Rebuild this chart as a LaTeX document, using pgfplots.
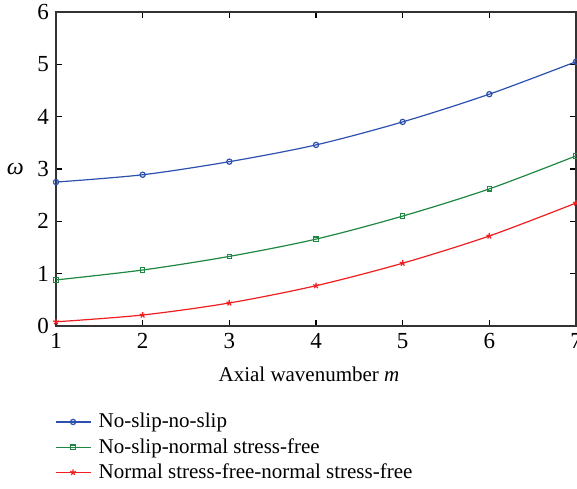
\documentclass[border=0pt]{standalone}
\usepackage{fontspec}
\setmainfont{Liberation Serif}
\usepackage{pgfplots}
\pgfplotsset{compat=1.18}
\definecolor{cblue}{RGB}{45,80,175}
\definecolor{cgreen}{RGB}{30,135,65}
\definecolor{cred}{RGB}{240,30,30}
\begin{document}
\begin{tikzpicture}
\begin{axis}[
    scale only axis,
    width=260pt, height=157pt,
    xmin=1, xmax=7, ymin=0, ymax=6,
    xtick={1,...,7}, ytick={0,...,6},
    tick align=inside,
    major tick length=3pt,
    tick style={black, line width=0.6pt},
    axis line style={line width=0.7pt, black!80},
    /pgf/number format/assume math mode=true,
    ticklabel style={font=\fontsize{11.5}{13}\selectfont},
    xlabel={Axial wavenumber \textit{m}},
    xlabel style={font=\fontsize{10.5}{12}\selectfont, yshift=-2.5pt, xshift=-3.5pt},
    ylabel={\textit{ω}},
    ylabel style={rotate=-90, font=\fontsize{12}{14}\selectfont},
    legend cell align=left,
    legend style={draw=none, at={(0,-0.27)}, anchor=north west, xshift=-3.5pt, yshift=3pt,
        row sep=-0.25pt, font=\fontsize{10.5}{12.5}\selectfont,
        /tikz/every odd column/.append style={column sep=2pt}},
    every axis plot/.append style={line width=0.6pt},
]
% No-slip-no-slip
\addplot[color=cblue, smooth, mark=o, mark size=1.3pt] coordinates {
(1,2.75) (2,2.89) (3,3.14) (4,3.46) (5,3.90) (6,4.43) (7,5.05)};
\addlegendentry{No-slip-no-slip}
% No-slip-normal stress-free
\addplot[color=cgreen, smooth, mark=square, mark size=1.1pt] coordinates {
(1,0.88) (2,1.07) (3,1.33) (4,1.66) (5,2.10) (6,2.62) (7,3.25)};
\addlegendentry{No-slip-normal stress-free}
% Normal stress-free-normal stress-free
\addplot[color=cred, smooth, mark=star, mark size=1.5pt] coordinates {
(1,0.08) (2,0.21) (3,0.44) (4,0.77) (5,1.20) (6,1.72) (7,2.35)};
\addlegendentry{Normal stress-free-normal stress-free}
\coordinate (bl) at (rel axis cs:0,0);
\coordinate (tr) at (rel axis cs:1,1);
\end{axis}
\pgfresetboundingbox
\useasboundingbox ([shift={(-28pt,-81pt)}]bl) rectangle ([shift={(0.5pt,6pt)}]tr);
\end{tikzpicture}
\end{document}
